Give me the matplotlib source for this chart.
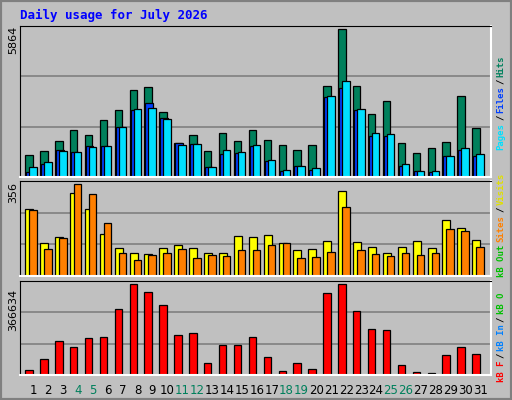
import matplotlib.pyplot as plt
import numpy as np

days = list(range(1, 32))
weekend = [4, 5, 11, 12, 18, 19, 25, 26]
hits = [889, 1048, 1446, 1844, 1645, 2242, 2640, 3436, 3555, 2560, 1366, 1645, 1048, 1725, 1446,
        1844, 1486, 1287, 1088, 1287, 3595, 5864, 3595, 2481, 2998, 1366, 968, 1167, 1406, 3197, 1924]
files = [212, 531, 1088, 1008, 1247, 1247, 1964, 2640, 2919, 2322, 1366, 1327, 411, 929, 969,
         1247, 650, 252, 451, 292, 3158, 3516, 2640, 1605, 1605, 451, 252, 212, 849, 1088, 849]
pages = [411, 610, 1048, 1008, 1207, 1247, 1964, 2680, 2720, 2282, 1287, 1327, 411, 1088, 1008,
         1287, 690, 292, 451, 372, 3198, 3795, 2680, 1725, 1685, 531, 252, 252, 849, 1167, 929]
visits = [259, 128, 151, 321, 259, 163, 108, 89, 85, 108, 120, 108, 89, 89, 155,
          151, 159, 128, 101, 104, 135, 329, 132, 112, 89, 112, 135, 108, 217, 186, 139]
sites = [255, 104, 147, 356, 317, 205, 89, 62, 81, 89, 104, 70, 81, 77, 101,
         101, 120, 128, 70, 74, 93, 267, 101, 85, 77, 89, 81, 89, 182, 174, 112]
kbytes = [20100, 64500, 137000, 112800, 149100, 153100, 265900, 366634, 334400, 282000, 161200, 169200, 48300, 120900, 120900,
          153100, 72500, 16100, 48300, 24200, 330400, 366634, 257800, 185300, 181300, 40300, 12100, 8100, 80600, 112800, 84600]

BG = '#c0c0c0'
W, H = 512, 400
fig = plt.figure(figsize=(W / 100, H / 100), dpi=100, facecolor=BG)

def ax_at(x0, y0, x1, y1):
    return fig.add_axes([x0 / W, 1 - y1 / H, (x1 - x0) / W, (y1 - y0) / H])

x = np.array(days)
xl = (0.107, 31.72)

def style(ax, top):
    ax.set_facecolor(BG)
    ax.set_xlim(*xl)
    ax.set_ylim(0, top)
    for f in (1 / 3, 2 / 3):
        ax.axhline(top * f, color='#808080', lw=1.2, zorder=0)
    ax.set_xticks([])
    ax.set_yticks([])
    for s in ('left', 'top'):
        ax.spines[s].set_color('black')
    for s in ('right', 'bottom'):
        ax.spines[s].set_color('white')
        ax.spines[s].set_linewidth(1.5)

kw = dict(align='edge', edgecolor='black', linewidth=0.9)

a1 = ax_at(20, 26, 491, 177)
style(a1, 5864 * 150 / 147)
a1.bar(x - 0.54, hits, 0.5, color='#00805c', **kw)
a1.bar(x - 0.47, files, 0.5, color='#0040ff', **kw)
a1.bar(x - 0.27, pages, 0.5, color='#00e0ff', **kw)

a2 = ax_at(20, 181, 491, 276)
style(a2, 356 * 286 / 276)
a2.bar(x - 0.54, visits, 0.54, color='#ffff00', **kw)
a2.bar(x - 0.27, sites, 0.5, color='#ff8000', **kw)

a3 = ax_at(20, 281, 491, 375)
style(a3, 366634 * 283 / 273)
a3.bar(x - 0.54, kbytes, 0.5, color='#ff0000', **kw)

for d in days:
    a3.text(d, -0.1, str(d), transform=a3.get_xaxis_transform(), ha='center', va='top',
            fontsize=8.5, color='#00805c' if d in weekend else 'black')

fig.text(20 / W, 1 - 15 / H, 'Daily usage for July 2026', color='#0000ff', fontsize=9,
         fontweight='bold', family='DejaVu Sans Mono', va='center')
for lab, yc in (('5864', 40), ('356', 193), ('366634', 310)):
    fig.text(13 / W, 1 - yc / H, lab, rotation=90, fontsize=8, ha='center', va='center')

def side(pieces, ybottom):
    # stack rotated label pieces upward from ybottom (pixels)
    y = ybottom
    for txt, col in pieces:
        fig.text(501 / W, 1 - y / H, txt, rotation=90, color=col, fontsize=6.5,
                 family='DejaVu Sans Mono', fontweight='bold', ha='center', va='bottom')
        y -= 5.6 * len(txt) + 1.5

side([('Pages', '#00e0ff'), ('/', 'black'), ('Files', '#0040ff'), ('/', 'black'), ('Hits', '#00805c')], 150)
side([('kB Out', '#00c000'), ('Sites', '#ff8000'), ('/', 'black'), ('Visits', '#e0e000')], 277)
side([('kB F', '#ff0000'), ('/', 'black'), ('kB In', '#0080ff'), ('/', 'black'), ('kB O', '#00c000')], 382)

fig.patches.append(plt.Rectangle((0, 0), 1, 1, transform=fig.transFigure, fill=False,
                                 edgecolor='#808080', lw=3))
fig.savefig('out.png', dpi=100, facecolor=BG)
